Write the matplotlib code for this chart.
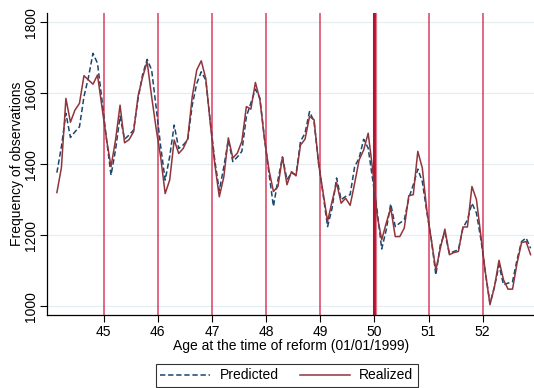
import numpy as np
import matplotlib
matplotlib.use("Agg")
import matplotlib.pyplot as plt

plt.rcParams['font.family'] = ['Liberation Sans', 'DejaVu Sans']

# monthly counts of observations by age at the reform date
predicted = [1376, 1449, 1543, 1475, 1491, 1505, 1590, 1645, 1712, 1684,
             1580, 1470, 1369, 1440, 1535, 1470, 1482, 1496, 1585, 1652,
             1695, 1665, 1560, 1450, 1355, 1421, 1510, 1444, 1454, 1468,
             1566, 1627, 1660, 1637, 1520, 1410, 1325, 1392, 1468, 1407,
             1420, 1436, 1534, 1572, 1611, 1586, 1473, 1375, 1281, 1356,
             1420, 1356, 1375, 1370, 1464, 1487, 1548, 1520, 1403, 1315,
             1224, 1276, 1361, 1300, 1309, 1314, 1393, 1417, 1470, 1445,
             1356, 1267, 1161, 1215, 1288, 1224, 1234, 1243, 1304, 1342,
             1386, 1351, 1265, 1187, 1088, 1173, 1206, 1149, 1154, 1159,
             1220, 1243, 1290, 1262, 1187, 1093, 1008, 1055, 1116, 1060,
             1065, 1069, 1131, 1182, 1192, 1163]
realized = [1320, 1390, 1585, 1518, 1552, 1571, 1649, 1637, 1625, 1651,
            1560, 1470, 1393, 1468, 1566, 1460, 1469, 1491, 1592, 1645,
            1688, 1590, 1500, 1420, 1317, 1355, 1468, 1430, 1444, 1472,
            1590, 1665, 1691, 1641, 1515, 1400, 1308, 1364, 1474, 1417,
            1431, 1464, 1562, 1555, 1630, 1581, 1473, 1384, 1323, 1337,
            1420, 1342, 1379, 1367, 1454, 1470, 1534, 1525, 1403, 1320,
            1239, 1295, 1348, 1290, 1304, 1284, 1346, 1412, 1440, 1487,
            1384, 1255, 1187, 1234, 1276, 1196, 1196, 1220, 1311, 1314,
            1436, 1389, 1270, 1187, 1102, 1163, 1217, 1145, 1151, 1154,
            1223, 1223, 1337, 1300, 1196, 1093, 1004, 1055, 1129, 1074,
            1048, 1048, 1121, 1179, 1182, 1145]
age = 44.135 + np.arange(len(realized)) / 12

birthday_ages = [45, 46, 47, 48, 49, 51, 52]
cutoff_age = 50
yticks = [1000, 1200, 1400, 1600, 1800]

fig = plt.figure(figsize=(5.34, 3.88), dpi=100)
ax = fig.add_axes([0.0886, 0.188, 0.9114, 0.778])

for a in birthday_ages:
    ax.axvline(a, color='#d0103a', lw=1.1, alpha=0.8, zorder=1)
# reform cutoff, drawn heavier
ax.axvline(cutoff_age, color='#b5122f', lw=2.2, zorder=1)
ax.axvline(cutoff_age + 0.025, color='#e07890', lw=0.9, zorder=1)

ax.plot(age, predicted, color='#1a476f', lw=1.1, ls=(0, (3.5, 1.8)),
        label='Predicted', zorder=3)
ax.plot(age, realized, color='#90353b', lw=1.1, label='Realized', zorder=3)

ax.set_xlim(43.958, 52.948)
ax.set_ylim(975, 1825)
ax.set_xticks(range(45, 53))
ax.set_yticks(yticks)
ax.set_yticklabels([str(v) for v in yticks], rotation=90, va='center')
ax.yaxis.grid(True, color='#e6eef1', lw=0.9)
ax.set_axisbelow(True)
ax.tick_params(labelsize=10, length=5, width=0.8, color='black', pad=2)

ax.spines['top'].set_visible(False)
ax.spines['right'].set_visible(False)
for s in ('left', 'bottom'):
    ax.spines[s].set_linewidth(0.9)

ax.set_xlabel('Age at the time of reform (01/01/1999)', fontsize=10, labelpad=0)
ax.set_ylabel('Frequency of observations', fontsize=10, labelpad=0)

leg = ax.legend(loc='lower center', bbox_to_anchor=(0.537, 0.0),
                bbox_transform=fig.transFigure, ncol=2, fontsize=10,
                handlelength=3.6, columnspacing=1.5, handletextpad=0.7,
                frameon=True, fancybox=False, borderpad=0.3, borderaxespad=0.1)
leg.get_frame().set_edgecolor('black')
leg.get_frame().set_linewidth(0.8)

fig.savefig('out.png', dpi=100)
